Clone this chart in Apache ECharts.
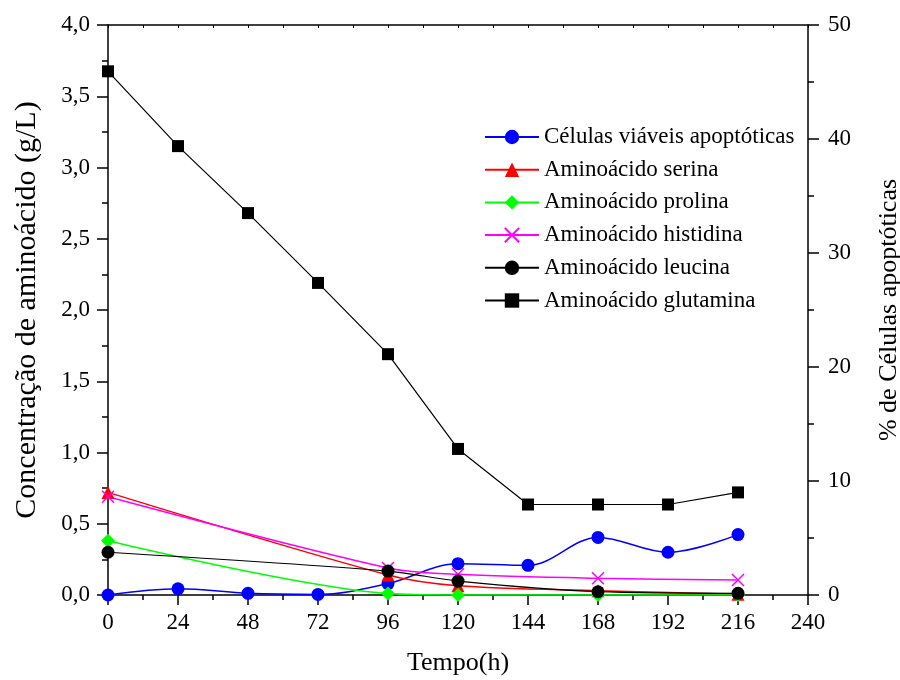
<!DOCTYPE html>
<html>
<head>
<meta charset="utf-8">
<script src="https://cdn.jsdelivr.net/npm/echarts@6/dist/echarts.min.js"></script>
<style>
  html, body { margin: 0; padding: 0; background: #fff; }
  #chart { width: 900px; height: 680px; }
</style>
</head>
<body>
<div id="chart"></div>
<script>
// Sampling times (h)
const tempoApoptose = [0, 24, 48, 72, 96, 120, 144, 168, 192, 216];
const tempoAminoacidos = [0, 96, 120, 168, 216];
const tempoGlutamina = [0, 24, 48, 72, 96, 120, 144, 168, 192, 216];

// % apoptotic viable cells (right axis)
const celulasApoptoticas = [0, 0.55, 0.15, 0.05, 1.0, 2.75, 2.6, 5.05, 3.75, 5.3];

// Amino acid concentrations, g/L (left axis)
const serina = [0.72, 0.14, 0.065, 0.03, 0.005];
const prolina = [0.38, 0.01, 0.0, 0.0, 0.0];
const histidina = [0.69, 0.19, 0.145, 0.117, 0.105];
const leucina = [0.30, 0.168, 0.098, 0.023, 0.012];
const glutamina = [3.675, 3.15, 2.68, 2.19, 1.69, 1.025, 0.635, 0.635, 0.635, 0.72];

const nomes = [
  'Células viáveis apoptóticas',
  'Aminoácido serina',
  'Aminoácido prolina',
  'Aminoácido histidina',
  'Aminoácido leucina',
  'Aminoácido glutamina'
];

const FONT = '"Liberation Serif", "Times New Roman", serif';

function pares(xs, ys) {
  return xs.map((x, i) => [x, ys[i]]);
}

const chart = echarts.init(document.getElementById('chart'), null, { renderer: 'canvas' });

const axisLineStyle = { color: '#000', width: 1.5 };

chart.setOption({
  animation: false,
  backgroundColor: '#fff',
  grid: { left: 108, right: 92, top: 25, bottom: 85, containLabel: false, outerBoundsMode: 'none' },
  legend: {
    orient: 'vertical',
    left: 479,
    top: 120,
    itemWidth: 54,
    itemHeight: 18,
    itemGap: 8.7,
    textStyle: { fontFamily: FONT, fontSize: 23, color: '#000', lineHeight: 24 },
    data: nomes
  },
  xAxis: [
    {
      type: 'value',
      position: 'bottom',
      min: 0, max: 240, interval: 24,
      name: 'Tempo(h)',
      nameLocation: 'middle',
      nameGap: 55,
      nameTextStyle: { fontFamily: FONT, fontSize: 26, color: '#000' },
      axisLine: { show: true, onZero: false, lineStyle: axisLineStyle },
      axisTick: { show: true, inside: false, length: 10, lineStyle: { color: '#000', width: 1.5 } },
      minorTick: { show: true, splitNumber: 2, length: 5, lineStyle: { color: '#000', width: 1.5 } },
      axisLabel: { fontFamily: FONT, fontSize: 23, color: '#000', margin: 16 },
      splitLine: { show: false }
    },
    {
      type: 'value',
      position: 'top',
      min: 0, max: 240, interval: 24,
      axisLine: { show: true, onZero: false, lineStyle: axisLineStyle },
      axisTick: { show: true, inside: true, length: 3, lineStyle: { color: '#000', width: 1 } },
      minorTick: { show: true, splitNumber: 2, length: 3, lineStyle: { color: '#000', width: 1 } },
      axisLabel: { show: false },
      splitLine: { show: false }
    }
  ],
  yAxis: [
    {
      type: 'value',
      position: 'left',
      min: 0, max: 4, interval: 0.5,
      name: 'Concentração de aminoácido (g/L)',
      nameLocation: 'middle',
      nameGap: 66,
      nameRotate: 90,
      nameTextStyle: { fontFamily: FONT, fontSize: 30, color: '#000' },
      axisLine: { show: true, onZero: false, lineStyle: axisLineStyle },
      axisTick: { show: true, inside: false, length: 11, lineStyle: { color: '#000', width: 1.5 } },
      minorTick: { show: true, splitNumber: 2, length: 6, lineStyle: { color: '#000', width: 1.5 } },
      axisLabel: {
        fontFamily: FONT, fontSize: 23, color: '#000', margin: 18,
        formatter: v => v.toFixed(1).replace('.', ',')
      },
      splitLine: { show: false }
    },
    {
      type: 'value',
      position: 'right',
      min: 0, max: 50, interval: 10,
      name: '% de Células apoptóticas',
      nameLocation: 'middle',
      nameGap: 68,
      nameRotate: 90,
      nameTextStyle: { fontFamily: FONT, fontSize: 26, color: '#000' },
      axisLine: { show: true, onZero: false, lineStyle: axisLineStyle },
      axisTick: { show: true, inside: false, length: 11, lineStyle: { color: '#000', width: 1.5 } },
      minorTick: { show: true, splitNumber: 2, length: 6, lineStyle: { color: '#000', width: 1.5 } },
      axisLabel: { fontFamily: FONT, fontSize: 23, color: '#000', margin: 20 },
      splitLine: { show: false }
    }
  ],
  series: [
    {
      name: nomes[0], type: 'line', yAxisIndex: 1, smooth: 0.35,
      data: pares(tempoApoptose, celulasApoptoticas),
      symbol: 'circle', symbolSize: 13,
      lineStyle: { color: '#0000ff', width: 1.5 },
      itemStyle: { color: '#0000ff' }
    },
    {
      name: nomes[1], type: 'line', yAxisIndex: 0, smooth: 0.3,
      data: pares(tempoAminoacidos, serina),
      symbol: 'triangle', symbolSize: 13,
      lineStyle: { color: '#ff0000', width: 1.5 },
      itemStyle: { color: '#ff0000' }
    },
    {
      name: nomes[2], type: 'line', yAxisIndex: 0, smooth: 0.3,
      data: pares(tempoAminoacidos, prolina),
      symbol: 'diamond', symbolSize: 14,
      lineStyle: { color: '#00ff00', width: 1.5 },
      itemStyle: { color: '#00ff00' }
    },
    {
      name: nomes[3], type: 'line', yAxisIndex: 0, smooth: 0.3,
      data: pares(tempoAminoacidos, histidina),
      symbol: 'path://M0,0L10,10M10,0L0,10', symbolSize: 12,
      lineStyle: { color: '#ff00ff', width: 1.5 },
      itemStyle: { color: 'rgba(0,0,0,0)', borderColor: '#ff00ff', borderWidth: 1.5 }
    },
    {
      name: nomes[4], type: 'line', yAxisIndex: 0, smooth: 0.3,
      data: pares(tempoAminoacidos, leucina),
      symbol: 'circle', symbolSize: 13,
      lineStyle: { color: '#000', width: 1.2 },
      itemStyle: { color: '#000' }
    },
    {
      name: nomes[5], type: 'line', yAxisIndex: 0, smooth: false,
      data: pares(tempoGlutamina, glutamina),
      symbol: 'rect', symbolSize: 12,
      lineStyle: { color: '#000', width: 1.2 },
      itemStyle: { color: '#000' }
    }
  ]
});
</script>
</body>
</html>
